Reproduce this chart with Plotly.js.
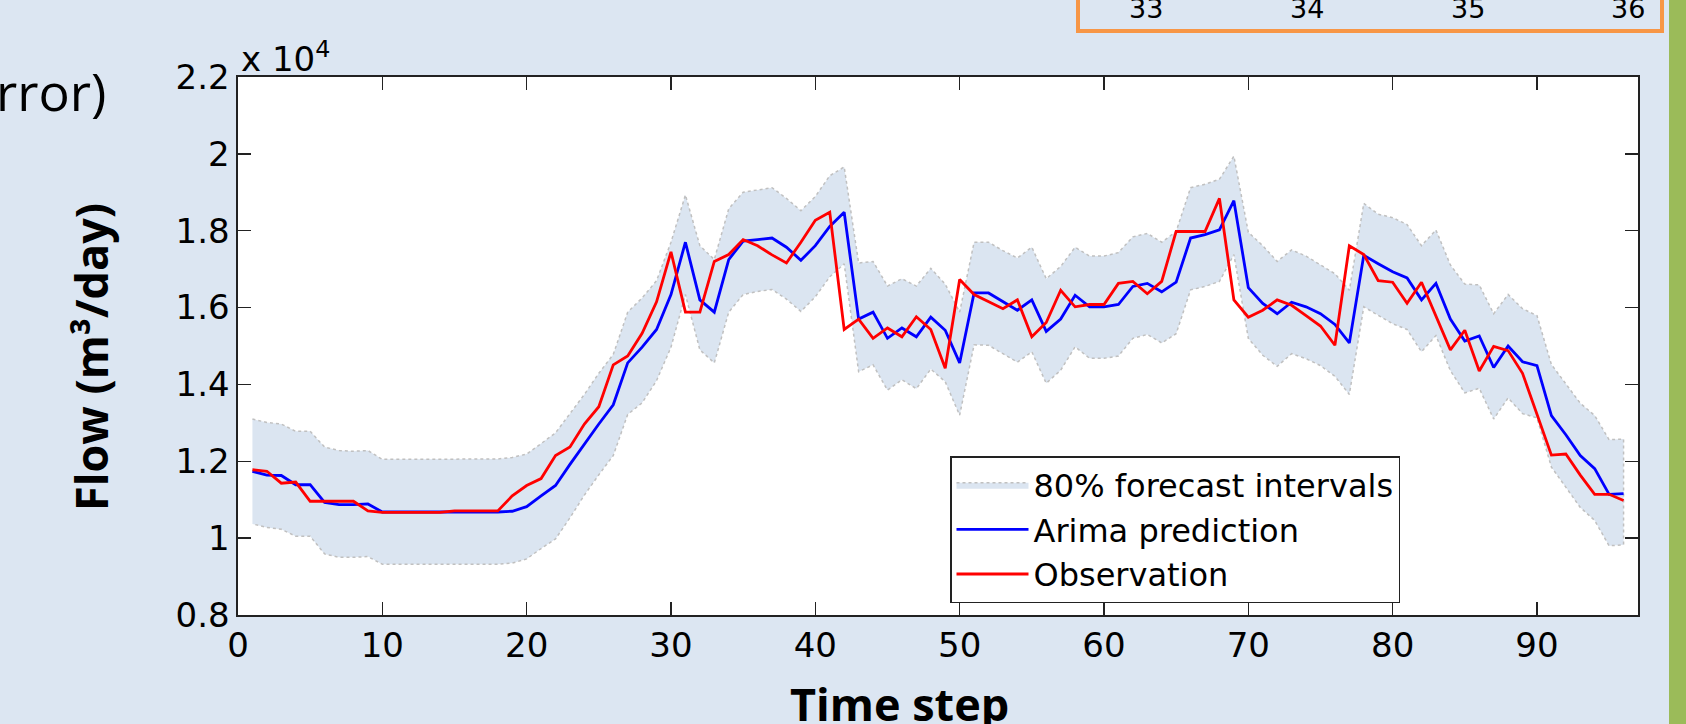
<!DOCTYPE html>
<html>
<head>
<meta charset="utf-8">
<script src="https://cdn.plot.ly/plotly-3.0.1.min.js"></script>
<style>
html,body{margin:0;padding:0;background:#dce6f2;overflow:hidden}
#chart{width:1686px;height:724px}
</style>
</head>
<body>
<div id="chart"></div>
<script>
// ---- data (flow in units of 10^4 m3/day) ----
const timeStep = [1,2,3,4,5,6,7,8,9,10,11,12,13,14,15,16,17,18,19,20,21,22,23,24,25,26,27,28,29,30,31,32,33,34,35,36,37,38,39,40,41,42,43,44,45,46,47,48,49,50,51,52,53,54,55,56,57,58,59,60,61,62,63,64,65,66,67,68,69,70,71,72,73,74,75,76,77,78,79,80,81,82,83,84,85,86,87,88,89,90,91,92,93,94,95,96];

const observation = [1.178,1.174,1.143,1.146,1.096,1.096,1.096,1.096,1.071,1.067,
  1.067,1.067,1.067,1.067,1.071,1.071,1.071,1.071,1.110,1.137,
  1.155,1.215,1.237,1.297,1.342,1.451,1.474,1.533,1.615,1.745,
  1.588,1.588,1.720,1.738,1.777,1.761,1.737,1.716,1.770,1.827,
  1.848,1.543,1.570,1.520,1.547,1.524,1.576,1.543,1.442,1.673,
  1.634,1.615,1.597,1.620,1.524,1.561,1.645,1.602,1.608,1.608,
  1.663,1.668,1.636,1.668,1.798,1.798,1.798,1.884,1.620,1.575,
  1.593,1.620,1.606,1.579,1.552,1.502,1.761,1.738,1.670,1.666,
  1.611,1.666,1.579,1.490,1.541,1.435,1.499,1.488,1.429,1.324,
  1.216,1.219,1.164,1.114,1.114,1.098];

const arimaPrediction = [1.174,1.164,1.163,1.139,1.139,1.093,1.087,1.087,1.089,1.068,
  1.068,1.068,1.068,1.068,1.068,1.068,1.068,1.068,1.070,1.082,
  1.110,1.137,1.192,1.246,1.297,1.347,1.456,1.497,1.543,1.634,
  1.770,1.620,1.588,1.725,1.773,1.777,1.781,1.757,1.723,1.761,
  1.811,1.848,1.570,1.588,1.520,1.547,1.524,1.575,1.541,1.456,
  1.638,1.638,1.615,1.593,1.620,1.538,1.570,1.632,1.602,1.602,
  1.608,1.655,1.663,1.641,1.666,1.781,1.790,1.802,1.878,1.652,
  1.611,1.584,1.614,1.602,1.584,1.556,1.508,1.736,1.714,1.693,
  1.677,1.620,1.663,1.570,1.513,1.526,1.444,1.500,1.459,1.449,
  1.319,1.269,1.215,1.181,1.114,1.116];

const upperBound = [1.310,1.301,1.297,1.278,1.278,1.237,1.228,1.226,1.228,1.205,
  1.205,1.205,1.205,1.205,1.206,1.206,1.206,1.206,1.210,1.219,
  1.246,1.274,1.324,1.374,1.429,1.478,1.588,1.625,1.670,1.770,
  1.893,1.761,1.725,1.857,1.900,1.907,1.912,1.884,1.852,1.889,
  1.943,1.966,1.716,1.720,1.656,1.675,1.656,1.702,1.661,1.588,
  1.770,1.770,1.748,1.729,1.757,1.675,1.707,1.757,1.734,1.734,
  1.743,1.784,1.793,1.770,1.798,1.912,1.921,1.934,1.994,1.796,
  1.761,1.720,1.750,1.734,1.711,1.688,1.645,1.871,1.843,1.834,
  1.816,1.761,1.802,1.711,1.661,1.659,1.584,1.634,1.597,1.579,
  1.452,1.401,1.351,1.319,1.256,1.258];

const lowerBound = [1.037,1.028,1.023,1.005,1.005,0.959,0.950,0.950,0.952,0.932,
  0.932,0.932,0.932,0.932,0.932,0.932,0.932,0.932,0.935,0.946,
  0.973,0.998,1.053,1.112,1.165,1.215,1.322,1.352,1.410,1.497,
  1.634,1.490,1.456,1.588,1.634,1.642,1.647,1.622,1.590,1.628,
  1.680,1.714,1.433,1.451,1.385,1.412,1.389,1.440,1.407,1.320,
  1.503,1.502,1.480,1.458,1.485,1.403,1.437,1.498,1.468,1.468,
  1.474,1.520,1.530,1.508,1.532,1.646,1.655,1.668,1.738,1.520,
  1.476,1.447,1.480,1.467,1.449,1.421,1.374,1.602,1.580,1.558,
  1.543,1.485,1.527,1.436,1.378,1.390,1.310,1.365,1.324,1.313,
  1.185,1.133,1.080,1.046,0.980,0.983];

const xTickValues = [0,10,20,30,40,50,60,70,80,90];
const yTickValues = [0.8,1.0,1.2,1.4,1.6,1.8,2.0,2.2];
const yTickLabels = ['0.8','1','1.2','1.4','1.6','1.8','2','2.2'];
const seriesNames = ['80% forecast intervals','Arima prediction','Observation'];
const stripLabels = ['33','34','35','36'];

// ---- geometry helpers (page pixels -> paper coords) ----
const L = 238, R = 1638, T = 77, B = 615;
const px = v => (v - L) / (R - L);
const py = v => (B - v) / (B - T);

const bandX = timeStep.concat(timeStep.slice().reverse());
const bandY = upperBound.concat(lowerBound.slice().reverse());

const traces = [
  {x: bandX, y: bandY, type: 'scatter', mode: 'lines', fill: 'toself',
   fillcolor: 'rgb(219,229,241)', line: {color: 'rgb(192,192,192)', width: 1.5, dash: 'dot'},
   name: seriesNames[0], hoverinfo: 'skip'},
  {x: timeStep, y: arimaPrediction, type: 'scatter', mode: 'lines',
   line: {color: '#0000ff', width: 2.8}, name: seriesNames[1]},
  {x: timeStep, y: observation, type: 'scatter', mode: 'lines',
   line: {color: '#ff0000', width: 2.8}, name: seriesNames[2]}
];

const tickFont = {family: 'DejaVu Sans, Liberation Sans, Arial, sans-serif', size: 34, color: '#000'};
const axisCommon = {
  ticks: 'inside', ticklen: 13, tickwidth: 1.5, tickcolor: '#222',
  showline: true, linecolor: '#222', linewidth: 1.6, mirror: 'ticks',
  showgrid: false, zeroline: false, tickfont: tickFont, fixedrange: true
};

const stripX = [1146, 1307, 1468, 1628];
const annotations = [
  {text: 'x 10<sup>4</sup>', x: px(239), y: py(57), xref: 'paper', yref: 'paper',
   xanchor: 'left', yanchor: 'middle', showarrow: false, font: tickFont},
  {text: 'rror)', x: px(108), y: py(91), xref: 'paper', yref: 'paper',
   xanchor: 'right', yanchor: 'middle', showarrow: false,
   font: {family: 'Open Sans, sans-serif', size: 52, color: '#000'}},
  {text: '<b>Flow (m³/day)</b>', x: px(90), y: py(357), xref: 'paper', yref: 'paper',
   xanchor: 'center', yanchor: 'middle', textangle: -90, showarrow: false,
   font: {family: 'Open Sans, sans-serif', size: 45, color: '#000'}},
  {text: '<b>Time step</b>', x: px(899), y: py(671), xref: 'paper', yref: 'paper',
   xanchor: 'center', yanchor: 'top', showarrow: false,
   font: {family: 'Open Sans, sans-serif', size: 45, color: '#000'}}
];
stripLabels.forEach((s, i) => annotations.push({
  text: s, x: px(stripX[i]), y: py(8), xref: 'paper', yref: 'paper',
  xanchor: 'center', yanchor: 'middle', showarrow: false,
  font: {family: 'DejaVu Sans, Liberation Sans, sans-serif', size: 27, color: '#000'}
}));

const shapes = [
  {type: 'rect', xref: 'paper', yref: 'paper', x0: px(1669), x1: px(1700), y0: py(760), y1: py(-30),
   fillcolor: '#9bbb59', line: {width: 0}},
  {type: 'rect', xref: 'paper', yref: 'paper', x0: px(1078), x1: px(1662), y0: py(31), y1: py(-30),
   fillcolor: 'rgba(0,0,0,0)', line: {color: '#f79646', width: 4}}
];

const layout = {
  width: 1686, height: 724,
  margin: {l: L, r: 1686 - R, t: T, b: 724 - B, pad: 0},
  paper_bgcolor: '#dce6f2', plot_bgcolor: '#ffffff',
  showlegend: true,
  xaxis: Object.assign({range: [0, 97], tickvals: xTickValues, ticklabelstandoff: 0}, axisCommon),
  yaxis: Object.assign({range: [0.8, 2.2], tickvals: yTickValues, ticktext: yTickLabels, ticklabelstandoff: 0}, axisCommon),
  legend: {x: px(950), y: py(456), xanchor: 'left', yanchor: 'top',
    bgcolor: '#ffffff', bordercolor: '#222', borderwidth: 1.5,
    font: {family: 'DejaVu Sans, Liberation Sans, Arial, sans-serif', size: 32, color: '#000'},
    itemwidth: 72, tracegroupgap: 0},
  annotations: annotations,
  shapes: shapes
};

Plotly.newPlot('chart', traces, layout, {displayModeBar: false, staticPlot: true});
</script>
</body>
</html>
